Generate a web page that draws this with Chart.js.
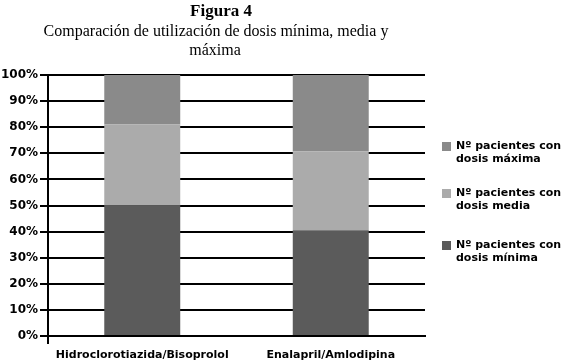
<!DOCTYPE html>
<html><head><meta charset="utf-8">
<script src="https://cdn.jsdelivr.net/npm/chart.js@4/dist/chart.umd.min.js"></script>
<style>html,body{margin:0;padding:0;background:#fff;}#wrap{width:568px;height:364px;position:relative;}</style>
</head><body><div id="wrap"><canvas id="c" width="568" height="364"></canvas></div>
<script>
const categories = ["Hidroclorotiazida/Bisoprolol", "Enalapril/Amlodipina"];
const dosisMinima = [50, 40.5];
const dosisMedia = [31, 30.3];
const dosisMaxima = [19, 29.2];
const yTicks = [0,10,20,30,40,50,60,70,80,90,100];
const titleText = "Figura 4";
const subtitleLines = ["Comparación de utilización de dosis mínima, media y", "máxima"];
const legendLines = {
  max: ["Nº pacientes con", "dosis máxima"],
  med: ["Nº pacientes con", "dosis media"],
  min: ["Nº pacientes con", "dosis mínima"]
};
const colors = {min:"#5b5b5b", med:"#ababab", max:"#8a8a8a"};
const sansBold = "bold 11px 'DejaVu Sans', Verdana, sans-serif";

const deco = {
  id: 'deco',
  afterDraw(chart) {
    const ctx = chart.ctx;
    ctx.save();
    ctx.fillStyle = '#000';
    ctx.textAlign = 'center';
    ctx.textBaseline = 'middle';
    ctx.font = "bold 17px 'Liberation Serif', 'Times New Roman', serif";
    ctx.fillText(titleText, 221, 12);
    ctx.font = "16px 'Liberation Serif', 'Times New Roman', serif";
    ctx.fillText(subtitleLines[0], 216, 32);
    ctx.fillText(subtitleLines[1], 215, 51);
    // legend
    const items = [
      {ds: 2, lines: legendLines.max, y: 146},
      {ds: 1, lines: legendLines.med, y: 193},
      {ds: 0, lines: legendLines.min, y: 245}
    ];
    ctx.textAlign = 'left';
    ctx.font = sansBold;
    items.forEach(it => {
      ctx.fillStyle = chart.data.datasets[it.ds].backgroundColor;
      ctx.fillRect(442, it.y - 4, 9, 9);
      ctx.fillStyle = '#000';
      ctx.fillText(it.lines[0], 456, it.y);
      ctx.fillText(it.lines[1], 456, it.y + 13);
    });
    ctx.restore();
  }
};

new Chart(document.getElementById('c'), {
  type: 'bar',
  data: {
    labels: categories,
    datasets: [
      {label: 'min', data: dosisMinima, backgroundColor: colors.min},
      {label: 'med', data: dosisMedia, backgroundColor: colors.med},
      {label: 'max', data: dosisMaxima, backgroundColor: colors.max}
    ]
  },
  options: {
    responsive: false,
    animation: false,
    devicePixelRatio: 1,
    layout: {padding: {left: 0, top: 75, right: 143, bottom: 0}},
    datasets: {bar: {barPercentage: 0.403, categoryPercentage: 1}},
    plugins: {legend: {display: false}, tooltip: {enabled: false}, title: {display: false}},
    scales: {
      x: {
        stacked: true,
        afterFit(s) { s.height = 28; },
        grid: {
          offset: true,
          drawOnChartArea: false,
          tickLength: 8,
          lineWidth: 2,
          color: (c) => c.index === 0 ? '#000' : 'rgba(0,0,0,0)'
        },
        border: {color: '#000', width: 2},
        ticks: {color: '#000', font: {family: "'DejaVu Sans', Verdana, sans-serif", size: 11, weight: 'bold'}, padding: 5, maxRotation: 0}
      },
      y: {
        stacked: true,
        min: 0, max: 100,
        afterFit(s) { s.width = 48; },
        afterBuildTicks(s) { s.ticks = yTicks.map(v => ({value: v})); },
        grid: {color: '#000', lineWidth: 2, tickLength: 8},
        border: {color: '#000', width: 2},
        ticks: {color: '#000', padding: 2, font: {family: "'DejaVu Sans', Verdana, sans-serif", size: 12, weight: 'bold'}, callback: v => v + '%'}
      }
    }
  },
  plugins: [deco]
});
</script></body></html>
